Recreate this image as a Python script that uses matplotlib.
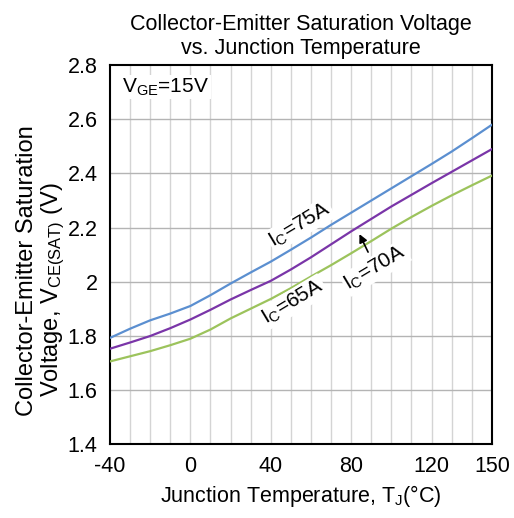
import numpy as np
import matplotlib
matplotlib.use("Agg")
import matplotlib.pyplot as plt

plt.rcParams['font.family'] = ['Liberation Sans', 'DejaVu Sans']
plt.rcParams['mathtext.fontset'] = 'custom'
plt.rcParams['mathtext.rm'] = 'Liberation Sans'
plt.rcParams['mathtext.it'] = 'Liberation Sans:italic'
plt.rcParams['axes.unicode_minus'] = False

# junction temperature (deg C)
temp = [-40, -30, -20, -10, 0, 10, 20, 30, 40, 50, 60, 70, 80, 90, 100, 110, 120, 130, 140, 150]
# Vce(sat) for each collector current
vce_75a = [1.792, 1.826, 1.857, 1.882, 1.910, 1.950, 1.993, 2.034, 2.074, 2.118,
           2.163, 2.210, 2.255, 2.300, 2.345, 2.390, 2.435, 2.481, 2.530, 2.580]
vce_70a = [1.752, 1.775, 1.799, 1.828, 1.860, 1.896, 1.934, 1.969, 2.003, 2.045,
           2.090, 2.138, 2.186, 2.232, 2.278, 2.321, 2.364, 2.406, 2.448, 2.490]
vce_65a = [1.705, 1.724, 1.743, 1.765, 1.789, 1.823, 1.864, 1.900, 1.936, 1.976,
           2.019, 2.061, 2.105, 2.150, 2.196, 2.239, 2.280, 2.319, 2.356, 2.392]

xticks = [-40, 0, 40, 80, 120, 150]
yticks = [1.4, 1.6, 1.8, 2.0, 2.2, 2.4, 2.6, 2.8]
ytick_labels = ["1.4", "1.6", "1.8", "2", "2.2", "2.4", "2.6", "2.8"]

fig = plt.figure(figsize=(5.14, 5.18), dpi=100)
ax = fig.add_axes([0.214, 0.143, 0.743, 0.731])

# grid
for t in range(-30, 150, 10):
    ax.axvline(t, color="#d4d4d4", lw=1.0, zorder=0)
for v in yticks[1:-1]:
    ax.axhline(v, color="#b4b4b4", lw=1.0, zorder=0)

ax.plot(temp, vce_75a, color="#5b8fd0", lw=1.6, zorder=3)
ax.plot(temp, vce_70a, color="#7a35a8", lw=1.6, zorder=3)
ax.plot(temp, vce_65a, color="#9cc35c", lw=1.6, zorder=3)

ax.set_xlim(-40, 150)
ax.set_ylim(1.4, 2.8)
ax.set_xticks(xticks)
ax.set_yticks(yticks)
ax.set_yticklabels(ytick_labels)
ax.tick_params(length=0, labelsize=15.5, pad=9)
for s in ax.spines.values():
    s.set_linewidth(1.5)
    s.set_color("black")

box = dict(facecolor="white", edgecolor="none", pad=1)
ax.text(-34, 2.72, r"V$_{\mathrm{GE}}$=15V", fontsize=15, va="center", ha="left",
        bbox=box, zorder=4)
ax.text(54.5, 2.21, r"I$_{\mathrm{C}}$=75A", fontsize=15, rotation=31, ha="center",
        va="center", bbox=box, zorder=4)
ax.text(51, 1.925, r"I$_{\mathrm{C}}$=65A", fontsize=15, rotation=31, ha="center",
        va="center", bbox=box, zorder=4)
ax.text(92, 2.05, r"I$_{\mathrm{C}}$=70A", fontsize=15, rotation=31, ha="center",
        va="center", bbox=box, zorder=4)
ax.annotate("", xy=(83.5, 2.185), xytext=(89, 2.1),
            arrowprops=dict(arrowstyle="-|>", color="black", lw=1.2,
                            mutation_scale=12), zorder=5)

ax.set_title("Collector-Emitter Saturation Voltage\nvs. Junction Temperature",
             fontsize=15.5, pad=8, linespacing=1.2)
ax.set_xlabel(r"Junction Temperature, T$_{\mathrm{J}}$(°C)", fontsize=15.5, labelpad=4)

# two-line y label, each line placed on its own
fig.text(27 / 514, 1 - 271 / 518, "Collector-Emitter Saturation", fontsize=17,
         rotation=90, ha="center", va="center")
fig.text(53 / 514, 1 - 290 / 518, r"Voltage, V$_{\mathrm{CE(SAT)}}$ (V)", fontsize=17,
         rotation=90, ha="center", va="center")

fig.savefig("out.png", dpi=100)
